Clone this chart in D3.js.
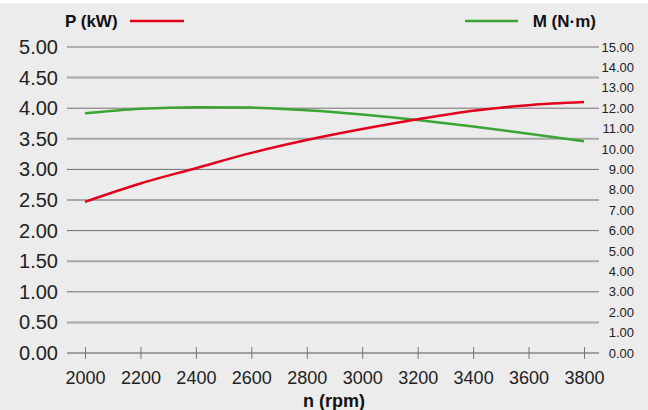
<!DOCTYPE html>
<html>
<head>
<meta charset="utf-8">
<script src="https://cdn.jsdelivr.net/npm/d3@7"></script>
<style>
  body { margin: 0; background: #ececec; }
  svg { display: block; font-family: "Liberation Sans", Arial, sans-serif; }
</style>
</head>
<body>
<div class="svg-container"></div>
<script>
// Chart data
var rpm = [2000, 2200, 2400, 2600, 2800, 3000, 3200, 3400, 3600, 3800];
var power = [2.47, 2.77, 3.02, 3.27, 3.48, 3.66, 3.82, 3.96, 4.05, 4.10];
var torque = [11.75, 11.97, 12.05, 12.03, 11.9, 11.69, 11.42, 11.1, 10.75, 10.38];
var leftTicks = [0, 0.5, 1, 1.5, 2, 2.5, 3, 3.5, 4, 4.5, 5];
var rightTicks = [0, 1, 2, 3, 4, 5, 6, 7, 8, 9, 10, 11, 12, 13, 14, 15];
var xTicks = [2000, 2200, 2400, 2600, 2800, 3000, 3200, 3400, 3600, 3800];

var width = 648, height = 410;

var svg = d3.select(".svg-container").append("svg")
    .attr("width", width)
    .attr("height", height);

svg.append("rect").attr("width", width).attr("height", height).attr("fill", "#ececec");
svg.append("rect").attr("width", width).attr("height", 3).attr("fill", "#ffffff");

// Scales
const xScale = d3.scaleLinear().domain([2000, 3800]).range([85, 584]);
const yLeft = d3.scaleLinear().domain([0, 5]).range([353, 47]);
const yRight = d3.scaleLinear().domain([0, 15]).range([353, 47]);

// Grid lines
svg.append("g").selectAll("line")
    .data(leftTicks.filter(function(d) { return d > 0; }))
    .enter().append("line")
    .attr("x1", 67).attr("x2", 599)
    .attr("y1", function(d) { return yLeft(d); })
    .attr("y2", function(d) { return yLeft(d); })
    .attr("stroke", function(d) { return d % 1 === 0 ? "#707070" : "#a8a8a8"; })
    .attr("stroke-width", function(d) { return d % 1 === 0 ? 1 : 2; });

// Bottom axis
const xaxis = d3.axisBottom(xScale)
    .tickValues(xTicks)
    .tickSize(6)
    .tickPadding(12)
    .tickFormat(d3.format("d"));

var gx = svg.append("g")
    .attr("transform", "translate(0," + yLeft(0) + ")")
    .call(xaxis);
gx.select(".domain").remove();
gx.selectAll(".tick line").attr("y1", -6).attr("stroke", "#777");
gx.selectAll("text").attr("font-size", "18px").attr("fill", "#222");
gx.insert("line", ":first-child")
    .attr("x1", 67).attr("x2", 599)
    .attr("stroke", "#888").attr("stroke-width", 1.5);

// Left axis labels
svg.append("g").selectAll("text")
    .data(leftTicks)
    .enter().append("text")
    .attr("x", 58)
    .attr("y", function(d) { return yLeft(d); })
    .attr("dy", "0.35em")
    .attr("text-anchor", "end")
    .attr("font-size", "20px")
    .attr("fill", "#222")
    .text(function(d) { return d.toFixed(2); });

// Right axis labels
svg.append("g").selectAll("text")
    .data(rightTicks)
    .enter().append("text")
    .attr("x", 634)
    .attr("y", function(d) { return yRight(d); })
    .attr("dy", "0.35em")
    .attr("text-anchor", "end")
    .attr("font-size", "13px")
    .attr("fill", "#222")
    .text(function(d) { return d.toFixed(2); });

// Lines
const pLine = d3.line()
    .x(function(d, i) { return xScale(rpm[i]); })
    .y(function(d) { return yLeft(d); })
    .curve(d3.curveMonotoneX);

const mLine = d3.line()
    .x(function(d, i) { return xScale(rpm[i]); })
    .y(function(d) { return yRight(d); })
    .curve(d3.curveMonotoneX);

svg.append("path")
    .datum(torque)
    .attr("fill", "none")
    .attr("stroke", "#3aa435")
    .attr("stroke-width", 2.5)
    .attr("d", mLine);

svg.append("path")
    .datum(power)
    .attr("fill", "none")
    .attr("stroke", "#e3001b")
    .attr("stroke-width", 2.5)
    .attr("d", pLine);

// Legend
svg.append("text")
    .attr("x", 65).attr("y", 27)
    .attr("font-size", "17px").attr("font-weight", "bold").attr("fill", "#111")
    .text("P (kW)");
svg.append("line")
    .attr("x1", 130).attr("x2", 184).attr("y1", 21).attr("y2", 21)
    .attr("stroke", "#e3001b").attr("stroke-width", 2.5);

svg.append("line")
    .attr("x1", 465).attr("x2", 518).attr("y1", 21).attr("y2", 21)
    .attr("stroke", "#3aa435").attr("stroke-width", 2.5);
svg.append("text")
    .attr("x", 596).attr("y", 27)
    .attr("text-anchor", "end")
    .attr("font-size", "17px").attr("font-weight", "bold").attr("fill", "#111")
    .text("M (N·m)");

// Axis title
svg.append("text")
    .attr("x", 334).attr("y", 407)
    .attr("text-anchor", "middle")
    .attr("font-size", "18px").attr("font-weight", "bold").attr("fill", "#111")
    .text("n (rpm)");
</script>
</body>
</html>
